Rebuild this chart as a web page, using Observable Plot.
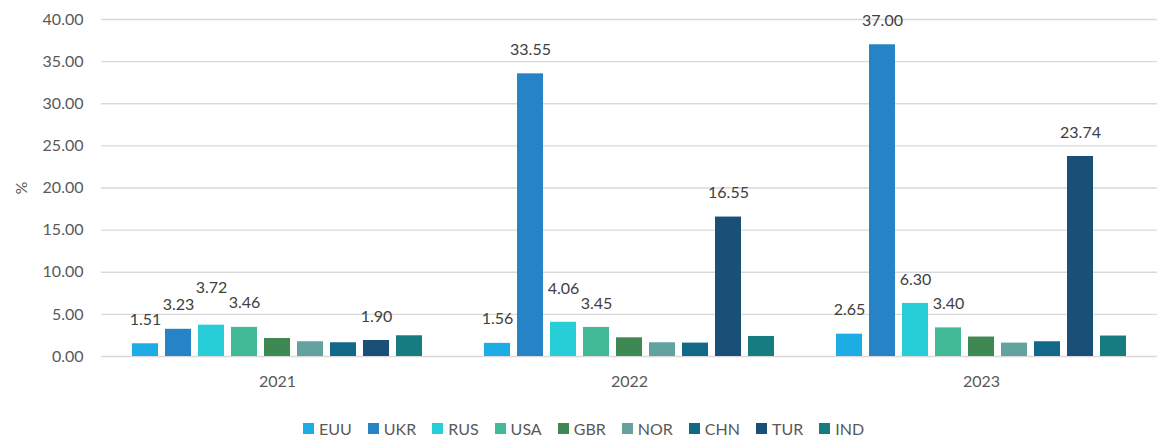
<!DOCTYPE html>
<html>
<head>
<meta charset="utf-8">
<script src="https://cdn.jsdelivr.net/npm/d3@7"></script>
<script src="https://cdn.jsdelivr.net/npm/@observablehq/plot@0.6"></script>
<style>
  html, body { margin: 0; padding: 0; background: #fff; }
  body { width: 1157px; height: 441px; overflow: hidden; font-family: Lato, "Open Sans", sans-serif; }
  #legend { display: flex; margin-left: 303px; margin-top: 7px; height: 22px; align-items: center; font-size: 16px; color: #595959; }
  .item { display: flex; align-items: center; margin-right: 16px; }
  .sw { width: 11px; height: 11px; margin-right: 5px; }
</style>
</head>
<body>
<div id="chart"></div>
<div id="legend"></div>
<script>
const years = ["2021", "2022", "2023"];
const countries = ["EUU", "UKR", "RUS", "USA", "GBR", "NOR", "CHN", "TUR", "IND"];
const colors = ["#1CADE4", "#2683C6", "#27CED7", "#42BA97", "#3E8853", "#62A39F", "#116889", "#1A4F77", "#177C81"];
const EUU = [1.51, 1.56, 2.65];
const UKR = [3.23, 33.55, 37.00];
const RUS = [3.72, 4.06, 6.30];
const USA = [3.46, 3.45, 3.40];
const GBR = [2.14, 2.22, 2.31];
const NOR = [1.75, 1.63, 1.59];
const CHN = [1.63, 1.59, 1.75];
const TUR = [1.90, 16.55, 23.74];
const IND = [2.46, 2.38, 2.43];
const labeledSeries = ["EUU", "UKR", "RUS", "USA", "TUR"];
const yTicks = [0, 5, 10, 15, 20, 25, 30, 35, 40];

const seriesValues = {EUU, UKR, RUS, USA, GBR, NOR, CHN, TUR, IND};
const rows = [];
years.forEach((yr, i) => countries.forEach(c => rows.push({year: yr, country: c, value: seriesValues[c][i]})));

const W = 1157, H = 410, MT = 19, MB = 54, ML = 100, MR = 0;
const k = (H - MT - MB) / (yTicks[yTicks.length - 1] - yTicks[0]);
const off = 24 / k, gap = 15 / k;

// label positions with simple collision avoidance (computed)
const labels = [];
years.forEach(yr => {
  const items = rows.filter(r => r.year === yr && labeledSeries.includes(r.country))
    .map(r => ({...r, idx: countries.indexOf(r.country), pos: r.value + off}))
    .sort((a, b) => a.idx - b.idx);
  for (let i = 1; i < items.length; i++) {
    const a = items[i - 1], b = items[i];
    if (b.idx - a.idx === 1 && Math.abs(a.pos - b.pos) < gap) {
      if (b.pos >= a.pos) b.pos = a.pos + gap; else a.pos = b.pos + gap;
    }
  }
  labels.push(...items);
});

const chart = Plot.plot({
  width: W, height: H,
  marginTop: MT, marginBottom: MB, marginLeft: ML, marginRight: MR,
  style: {fontFamily: "Lato, 'Open Sans', sans-serif", fontSize: "16px", color: "#595959", background: "#fff"},
  fx: {domain: years, padding: 0, axis: "bottom", tickSize: 0, tickPadding: 19, label: null},
  x: {domain: countries, paddingInner: 0.2, paddingOuter: 0.82, axis: null},
  y: {domain: [0, 40], ticks: yTicks, tickFormat: d3.format(".2f"), tickSize: 0, tickPadding: 18,
      label: "%", labelAnchor: "center", labelArrow: "none", labelOffset: 86},
  color: {domain: countries, range: colors},
  marks: [
    Plot.ruleY(yTicks, {stroke: "#d9d9d9", strokeWidth: 1.4}),
    Plot.barY(rows, {fx: "year", x: "country", y: "value", fill: "country"}),
    Plot.text(labels, {fx: "year", x: "country", y: "pos", text: d => d.value.toFixed(2), fill: "#404040", fontSize: 16})
  ]
});
document.getElementById("chart").appendChild(chart);

const legend = document.getElementById("legend");
countries.forEach((c, i) => {
  const it = document.createElement("div");
  it.className = "item";
  const sw = document.createElement("span");
  sw.className = "sw";
  sw.style.background = colors[i];
  const t = document.createElement("span");
  t.textContent = c;
  it.appendChild(sw); it.appendChild(t);
  legend.appendChild(it);
});
</script>
</body>
</html>
